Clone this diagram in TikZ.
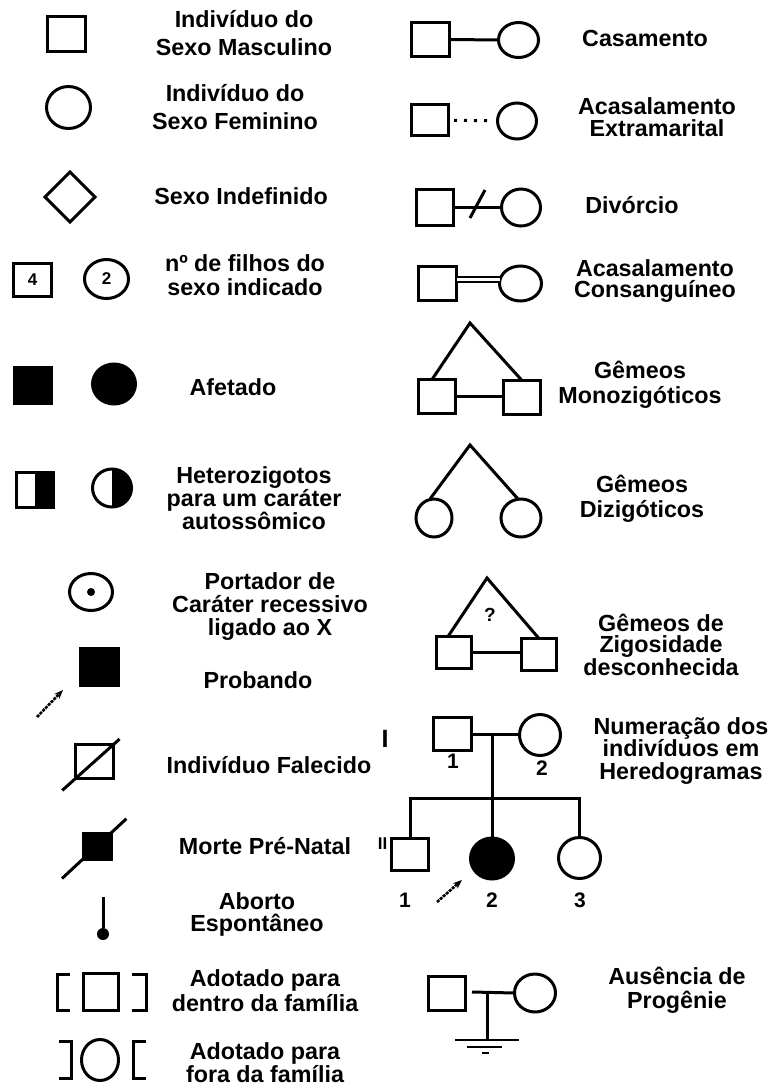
\documentclass[tikz,border=0pt]{standalone}
\usepackage{fontspec}
\setmainfont{Liberation Sans}
\usetikzlibrary{shapes.geometric,arrows.meta,calc}
\begin{document}
\begin{tikzpicture}[x=1pt,y=-1pt,
  sq/.style={draw, line width=3pt, rectangle, inner sep=0pt, outer sep=0pt},
  ci/.style={draw, line width=3pt, ellipse, inner sep=0pt, outer sep=0pt},
  dia/.style={draw, line width=3pt, diamond, inner sep=0pt, outer sep=0pt, aspect=1},
  sz/.style 2 args={minimum width=#1pt, minimum height=#2pt},
  aff/.style={fill=black},
  lab/.style={font=\fontsize{23.3}{#1}\selectfont\bfseries, align=center, inner sep=0pt},
  lab/.default=24,
  num/.style={font=\fontsize{#1}{#1}\selectfont\bfseries, inner sep=0pt},
  ln/.style={line width=3pt},
  prob/.style={line width=2.6pt, dash pattern=on 3pt off 1pt, -{Stealth[length=9pt,width=7pt]}},
]
\useasboundingbox (0,0) rectangle (781,1090);

% ---------------- left column ----------------
\node[sq, sz={38}{35}] (m1) at (66.5,34) {};
\node[lab=28] (t1) at (244,33) {Indivíduo do\\Sexo Masculino};

\node[ci, sz={44}{42}] (f1) at (68.5,107.5) {};
\node[lab=28] (t2) at (235,107) {Indivíduo do\\Sexo Feminino};

\node[dia, minimum width=50pt, minimum height=50pt] (d1) at (70,197) {};
\node[lab] (t3) at (241,196) {Sexo Indefinido};

\node[sq, sz={38}{33}, num=17] (n4) at (32.5,280) {4};
\node[ci, sz={44}{39}, num=17] (n2) at (106.5,279) {2};
\node[lab=24] (t4) at (245,275) {nº de filhos do\\sexo indicado};

\node[sq, aff, sz={37}{36}] (a1) at (33,385.5) {};
\node[ci, aff, sz={43}{40}] (a2) at (114,384) {};
\node[lab] (t5) at (233,387) {Afetado};

\node[sq, sz={37}{35}] (h1) at (35,490) {};
\fill (h1.north) rectangle (h1.south east);
\node[ci, sz={39}{38}] (h2) at (112,488) {};
\begin{scope}
  \clip (h2.north) rectangle ($(h2.south east)+(5,5)$);
  \fill (h2.center) ellipse [x radius=19.5pt, y radius=19pt];
\end{scope}
\node[lab=23] (t6) at (254,498) {Heterozigotos\\para um caráter\\autossômico};

\node[ci, sz={43}{37}] (p1) at (91,592) {};
\fill (p1.center) circle (4pt);
\node[lab=23] (t7) at (270,607) {Portador de\\Caráter recessivo\\ligado ao X};

\node[sq, aff, sz={38}{37}] (pb) at (99.5,667) {};
\coordinate (pbt) at (37,717);
\coordinate (pbh) at (63,690);
\draw[prob] (pbt) -- (pbh);
\node[lab] (t8) at (258,680) {Probando};

\node[sq, sz={38}{34}] (fa) at (94.5,761.5) {};
\draw[ln] ($(fa.south west)!-0.35!(fa.north east)$) -- ($(fa.south west)!1.16!(fa.north east)$);
\node[lab] (t9) at (269,765) {Indivíduo Falecido};

\node[sq, aff, sz={28}{26}] (mp) at (97,846) {};
\draw[ln] ($(mp.south west)!-0.75!(mp.north east)$) -- ($(mp.south west)!1.55!(mp.north east)$);
\node[lab] (t10) at (265,846) {Morte Pré-Natal};

\coordinate (ab) at (103,897);
\node[circle, fill, minimum size=12pt, inner sep=0pt] (abd) at (103,934) {};
\draw[ln] (ab) -- (abd);
\node[lab=22] (t11) at (257,914) {Aborto\\Espontâneo};

\node[sq, sz={35}{37}] (ad) at (101,992) {};
\draw[ln] (70,974.5) -- (57,974.5) -- (57,1010.5) -- (70,1010.5);
\draw[ln] (132,974.5) -- (146.5,974.5) -- (146.5,1010.5) -- (132,1010.5);
\node[lab=25] (t12) at (265,991) {Adotado para\\dentro da família};

\node[ci, sz={37}{41}] (ao) at (100,1060) {};
\draw[ln] (59,1041.5) -- (71.5,1041.5) -- (71.5,1078.5) -- (59,1078.5);
\draw[ln] (146,1041.5) -- (133.5,1041.5) -- (133.5,1078.5) -- (146,1078.5);
\node[lab=23] (t13) at (265,1063) {Adotado para\\fora da família};

% ---------------- right column ----------------
\node[sq, sz={38}{34}] (c1m) at (430.5,39.5) {};
\node[ci, sz={40}{35}] (c1f) at (518.5,40) {};
\draw[ln] (c1m) -- (c1f);
\node[lab] (r1) at (645,38.5) {Casamento};

\node[sq, sz={37}{31}] (c2m) at (430,120) {};
\node[ci, sz={39}{36}] (c2f) at (517,121) {};
\draw[line width=3pt, dash pattern=on 3pt off 7pt, shorten <=5.5pt, shorten >=8pt] (c2m) -- (c2f);
\node[lab=22] (r2) at (657,117.5) {Acasalamento\\Extramarital};

\node[sq, sz={37}{36}] (c3m) at (435,207.5) {};
\node[ci, sz={39}{37}] (c3f) at (521,207.5) {};
\draw[ln] (c3m) -- (c3f);
\coordinate (dv1) at (470,218);
\coordinate (dv2) at (485,190);
\draw[ln] (dv1) -- (dv2);
\node[lab] (r3) at (632,205) {Divórcio};

\node[sq, sz={38}{34}] (c4m) at (437.5,283.5) {};
\node[ci, sz={42}{35}] (c4f) at (520.5,283.5) {};
\draw[double, double distance=2.5pt, line width=2.5pt] ($(c4m.east)+(0,-4)$) -- ($(c4f.west)+(0,-4)$);
\node[lab=21] (r4) at (655,281) {Acasalamento\\Consanguíneo};

\coordinate (ap1) at (470,323);
\node[sq, sz={37}{34}] (mz1) at (437,396.5) {};
\node[sq, sz={37}{34}] (mz2) at (522,397.5) {};
\draw[ln] ($(mz1.north)+(-5,0)$) -- (ap1) -- (mz2.north);
\draw[ln] (mz1.east) -- (mz1.east -| mz2.west);
\node[lab=25] (r5) at (640,385) {Gêmeos\\Monozigóticos};

\coordinate (ap2) at (470,445);
\node[ci, sz={36}{38}] (dz1) at (434,518) {};
\node[ci, sz={40}{38}] (dz2) at (521,518) {};
\draw[ln] ($(dz1.north)+(-4,0)$) -- (ap2) -- ($(dz2.north)+(-3,0)$);
\node[lab=25] (r6) at (642,499) {Gêmeos\\Dizigóticos};

\coordinate (ap3) at (487,578);
\node[sq, sz={35}{32}] (uz1) at (454,652.5) {};
\node[sq, sz={35}{32}] (uz2) at (539,654.5) {};
\draw[ln] ($(uz1.north)+(-6,0)$) -- (ap3) -- (uz2.north);
\draw[ln] (uz1.east) -- (uz1.east -| uz2.west);
\node[num=19] (q) at (490,615) {?};
\node[lab=21] (r7) at (661,645) {Gêmeos de\\Zigosidade\\desconhecida};

% pedigree numbering
\node[num=25] (g1) at (385,739) {I};
\node[sq, sz={38}{33}] (p11) at (452.5,734) {};
\node[ci, sz={41}{41}] (p12) at (540,735) {};
\draw[ln] (p11.east) -- (p11.east -| p12.west);
\coordinate (pm) at (492,734);
\coordinate (ps) at (492,798);
\draw[ln] (pm) -- (ps);
\node[num=21] (l11) at (453,761) {1};
\node[num=21] (l12) at (542,768) {2};

\node[num=17] (g2) at (382.5,844) {II};
\node[sq, sz={37}{32}] (p21) at (410,854.5) {};
\node[ci, aff, sz={43}{41}] (p22) at (492,858.5) {};
\node[ci, sz={42}{41}] (p23) at (579.5,858) {};
\draw[ln] (p21.north) -- (p21.north |- ps) -- (p23.north |- ps) -- (p23.north);
\draw[ln] (ps) -- (p22.north);
\node[num=21] (l21) at (405,900) {1};
\node[num=21] (l22) at (492,900) {2};
\node[num=21] (l23) at (580,900) {3};
\coordinate (pa1) at (437,902);
\coordinate (pa2) at (462,880);
\draw[prob] (pa1) -- (pa2);
\node[lab=22.5] (r8) at (681,751) {Numeração dos\\indivíduos em\\Heredogramas};

% no progeny
\node[sq, sz={37}{34}] (np1) at (447,993.5) {};
\node[ci, sz={41}{38}] (np2) at (535,993) {};
\coordinate (nl) at (472,992);
\coordinate (nj) at (487,992);
\coordinate (ng) at (487,1040);
\draw[ln] (nl) -- (np2.west);
\draw[ln] (nj) -- (ng);
\draw[line width=2.6pt] ($(ng)+(-32,0)$) -- ($(ng)+(32,0)$);
\draw[line width=2.6pt] ($(ng)+(-20,7)$) -- ($(ng)+(15,7)$);
\draw[line width=2.6pt] ($(ng)+(-5,13)$) -- ($(ng)+(2,13)$);
\node[lab=24] (r9) at (677,990) {Ausência de\\Progênie};
\end{tikzpicture}
\end{document}
